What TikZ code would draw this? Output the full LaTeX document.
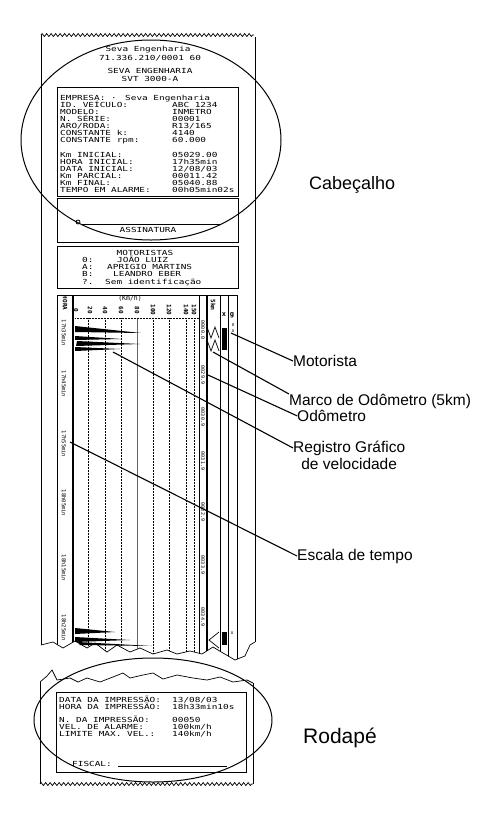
\documentclass[tikz,border=0pt]{standalone}
\usepackage{fontspec}
\setmainfont{Liberation Sans}
\newfontfamily\slipfont{DejaVu Sans Mono}
\usetikzlibrary{positioning,decorations.pathmorphing}

\newcommand{\chartTear}{(41,645) -- (53,642) -- (63,648) -- (75,641) -- (87,648) -- (95,643) -- (107,652) -- (117,645) -- (130,652) -- (140,648) -- (153,654) -- (167,650) -- (177,654) -- (190,651) -- (202,654) -- (213,647) -- (223,653) -- (235,660) -- (245,656) -- (250,645) -- (255,642)}
\newcommand{\footTear}{(40,682) -- (47,676) -- (52,670) -- (57,680) -- (70,678) -- (78,682) -- (87,678) -- (100,682) -- (113,677) -- (123,673) -- (130,678) -- (143,675) -- (153,673) -- (163,679) -- (177,675) -- (193,678) -- (207,680) -- (220,677) -- (233,682) -- (247,680) -- (253,683)}

\begin{document}
\begin{tikzpicture}[x=1pt, y=-1pt,
    paper/.style={line width=0.7pt},
    frame/.style={draw, line width=0.8pt},
    slip/.style={inner sep=0pt, anchor=base west, yscale=0.74, font=\fontsize{9.4}{9.4}\slipfont},
    slipc/.style={slip, anchor=base},
    tiny/.style={inner sep=0pt, rotate=-90, font=\fontsize{5}{5}\slipfont},
    gridline/.style={densely dotted, line width=0.5pt},
    lead/.style={line width=1.1pt},
    callout/.style={inner sep=0pt, anchor=west, align=center, font=\fontsize{15.5}{16.5}\selectfont},
    zone/.style={inner sep=0pt, anchor=west, font=\fontsize{18}{20}\selectfont},
    oval/.style={draw, line width=1pt}
  ]
  \fill[white] (0,0) rectangle (496,828);
  \useasboundingbox (0,0) rectangle (496,828);

  % upper strip
  \draw[paper, decorate, decoration={zigzag, segment length=4.5pt, amplitude=1.5pt}] (41,35) -- (254,35);
  \draw[paper] (41,35) -- (41,645);
  \draw[paper] (255,37) -- (255,642);
  \draw[paper] \chartTear;

  \node[slipc] (firm) at (148,51) {Seva Engenharia};
  \node[slipc] (cnpj) at (150,60) {71.336.210/0001 60};
  \node[slipc] (maker) at (150,73) {SEVA ENGENHARIA};
  \node[slipc] (device) at (150,81) {SVT 3000-A};

  \draw[frame] (57,87) rectangle (238,196);
  \node[slip] (empresa) at (60,100) {EMPRESA: ·};
  \node[slip] (empval) at (125,100) {Seva Engenharia};
  \foreach \lab/\val [count=\i] in {{ID. VEÍCULO:}/{ABC 1234}, {MODELO:}/{INMETRO}, {N. SÉRIE:}/{00001}, {ARO/RODA:}/{R13/165}, {CONSTANTE k:}/{4140}, {CONSTANTE rpm:}/{60.000}}
    {\node[slip] (hd\i) at (60,100+7*\i) {\lab};
     \node[slip] (hv\i) at (172,100+7*\i) {\val};}
  \foreach \lab/\val [count=\i] in {{Km INICIAL:}/{05029.00}, {HORA INICIAL:}/{17h35min}, {DATA INICIAL:}/{12/08/03}, {Km PARCIAL:}/{00011.42}, {Km FINAL:}/{05040.88}, {TEMPO EM ALARME:}/{00h05min02s}}
    {\node[slip] (km\i) at (60,150+7*\i) {\lab};
     \node[slip] (kv\i) at (172,150+7*\i) {\val};}

  \draw[frame] (57,198) rectangle (238,242);
  \draw[line width=0.8pt] (82,224) -- (220,224);
  \draw[line width=0.8pt] (78,222) circle[radius=2pt];
  \node[slipc] (sign) at (148,232) {ASSINATURA};

  \draw[frame] (57,246) rectangle (238,288);
  \node[slipc] (drvtitle) at (145,255) {MOTORISTAS};
  \foreach \c/\n/\x/\y [count=\i] in {0:/{JOÃO LUIZ}/117/262, A:/{APRIGIO MARTINS}/107/269, B:/{LEANDRO EBER}/113/276, ?./{Sem identificação}/105/284}
    {\node[slip] (code\i) at (82,\y) {\c};
     \node[slip] (drv\i) at (\x,\y) {\n};}

  % chart
  \begin{scope}
    \clip \chartTear -- (255,290) -- (41,290) -- cycle;
    \draw[frame] (57,295) -- (237,295);
    \foreach \x in {57,199,220,228,237} \draw[line width=0.8pt] (\x,295) -- (\x,670);
    \foreach \x in {73,207} \draw[line width=1.6pt] (\x,295) -- (\x,670);
    \foreach \x in {88,105,121,153,169,186,194} \draw[gridline] (\x,318) -- (\x,670);
    \draw[line width=0.8pt, black!60] (137,318) -- (137,670);
    \draw[gridline] (75,318) -- (199,318);
  \end{scope}

  \node[tiny, font=\fontsize{6}{6}\slipfont\bfseries] (hora) at (65,303) {HORA};
  \node[inner sep=0pt, font=\fontsize{6.5}{6.5}\slipfont] (kmh) at (130,298) {(Km/h)};
  \foreach \v/\x in {0/76,20/90,40/105,60/121,80/137,100/153,120/169,140/186,150/194}
    \node[tiny, font=\fontsize{6}{6}\slipfont\bfseries] (sp\v) at (\x,310) {\v};
  \node[tiny, font=\fontsize{6}{6}\slipfont\bfseries] (fivekm) at (213,305) {5km};
  \node[inner sep=0pt, font=\fontsize{7}{7}\slipfont\bfseries] (xmark) at (224,315) {x};
  \node[inner sep=0pt, font=\fontsize{7}{7}\slipfont\bfseries] (gmark) at (232,315) {g};

  \foreach \t/\y [count=\i] in {17h35min/333, 17h45min/384, 17h55min/444, 18h05min/503, 18h15min/568, 18h25min/628}
    \node[tiny, font=\fontsize{5.5}{5.5}\slipfont] (t\i) at (64,\y) {\t};
  \foreach \o/\y [count=\i] in {0000.0/330, 0029.9/375, 0030.9/417, 0031.9/461, 0032.9/512, 0033.9/565, 0034.9/617}
    \node[tiny] (od\i) at (203,\y) {\o};

  \fill (75,326) -- (141,333) -- (75,332) -- cycle;
  \fill (75,336) -- (122,339) -- (75,340) -- cycle;
  \fill (77,341) -- (140,344) -- (76,346) -- cycle;
  \fill (75,347) -- (120,349) -- (75,351) -- cycle;
  \fill (75,628) -- (115,632) -- (75,634) -- cycle;
  \fill (75,637) -- (130,640) -- (75,642) -- cycle;
  \fill (78,642) -- (152,646) -- (80,645) -- cycle;

  \draw[line width=0.7pt] (207,327) -- (211,338) -- (215,327) -- (219,338);
  \draw[line width=0.7pt] (207,340) -- (211,351) -- (215,340) -- (219,351);
  \draw[line width=0.7pt] (219,632) -- (209,640) -- (219,648);
  \fill (222,328) rectangle (227,350);
  \fill (222,632) rectangle (227,645);
  \node[inner sep=0pt, font=\fontsize{4}{4}\slipfont] (drvcode1) at (233,325) {0};
  \node[inner sep=0pt, font=\fontsize{4}{4}\slipfont] (drvcode2) at (233,331) {A};
  \node[inner sep=0pt, font=\fontsize{4}{4}\slipfont] (drvcode3) at (232,633) {A};

  % lower strip
  \draw[paper] \footTear;
  \draw[paper] (40,682) -- (40,784);
  \draw[paper] (253,683) -- (253,784);
  \draw[paper, decorate, decoration={zigzag, segment length=4.5pt, amplitude=1.5pt}] (40,784) -- (253,784);
  \draw[frame] (56,692) rectangle (246,772);
  \foreach \lab/\val/\y [count=\i] in {{DATA DA IMPRESSÃO:}/{13/08/03}/702, {HORA DA IMPRESSÃO:}/{18h33min10s}/709, {N. DA IMPRESSÃO:}/{00050}/722, {VEL. DE ALARME:}/{100km/h}/729, {LIMITE MAX. VEL.:}/{140km/h}/736}
    {\node[slip] (ft\i) at (59,\y) {\lab};
     \node[slip] (fv\i) at (172,\y) {\val};}
  \node[slip] (fiscal) at (72,766) {FISCAL:};
  \draw[line width=0.8pt] (118,766) -- (227,766);

  % callouts
  \coordinate (drvmark) at (231,333);
  \coordinate (odomark) at (213,352);
  \coordinate (odolabel) at (208,375);
  \coordinate (trace) at (113,352);
  \coordinate (timescale) at (70,442);

  \node[callout] (motorista) at (293,361) {Motorista};
  \node[callout, anchor=north west] (marco) at (289,394) {Marco de Odômetro (5km)};
  \node[callout, below=1pt of marco.south west, anchor=north west, xshift=8pt] (odometro) {Odômetro};
  \node[callout, anchor=north west] (registro) at (293,441) {Registro Gráfico\\de velocidade};
  \node[callout] (escala) at (297,556) {Escala de tempo};

  \draw[lead] (drvmark) -- (motorista.west);
  \draw[lead] (odomark) -- (marco.north west);
  \draw[lead] (odolabel) -- (odometro.west);
  \draw[lead] (trace) -- ([yshift=-7pt]registro.north west);
  \draw[lead] (timescale) -- (escala.west);

  \node[zone] (cabecalho) at (309,185) {Cabeçalho};
  \node[zone, font=\fontsize{21}{23}\selectfont] (rodape) at (303,738) {Rodapé};

  \draw[oval] (151,140) ellipse [x radius=130pt, y radius=100pt];
  \draw[oval] (153,720) ellipse [x radius=119pt, y radius=62pt];
\end{tikzpicture}
\end{document}
